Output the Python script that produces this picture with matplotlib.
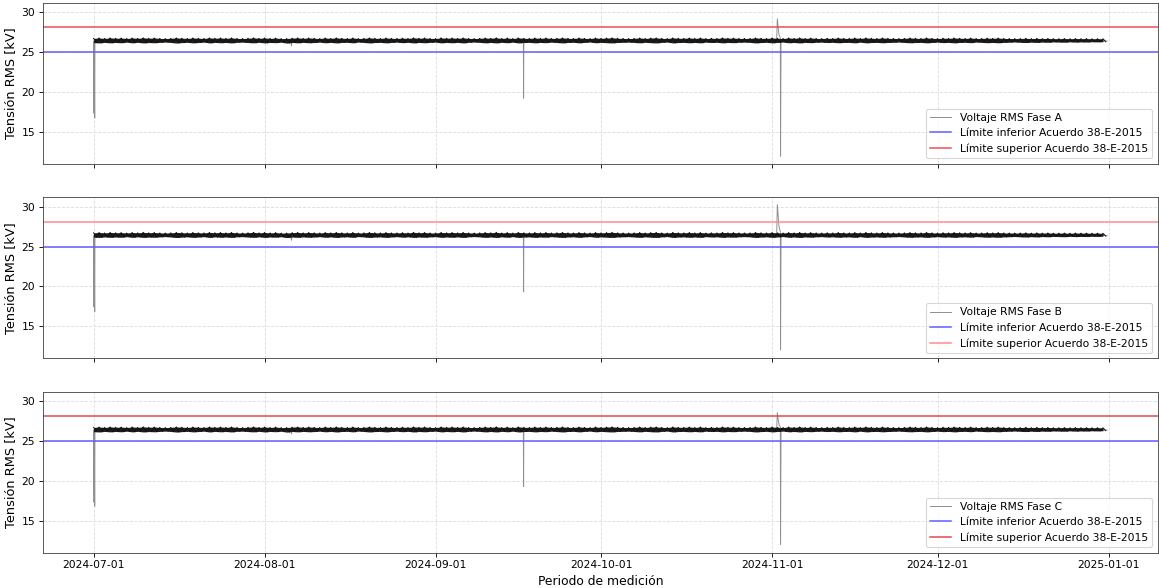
import matplotlib
matplotlib.use("Agg")
import matplotlib.pyplot as plt
import matplotlib.dates as mdates
import pandas as pd

# ---------------- data ----------------
phases = ["A", "B", "C"]
lower_limit = 25.0
upper_limit = 28.15

# daily max / min of the RMS voltage (kV), 2024-07-01 .. 2024-12-31 (Mon..Sun rows)
band_low = [
    26.20, 26.16, 26.23, 26.17, 26.22, 26.18, 26.26,
    26.17, 26.24, 26.16, 26.21, 26.18, 26.23, 26.27,
    26.22, 26.15, 26.20, 26.24, 26.17, 26.21, 26.26,
    26.16, 26.23, 26.18, 26.22, 26.16, 26.24, 26.26,
    26.21, 26.17, 26.24, 26.16, 26.22, 26.19, 26.25,
    26.14, 26.22, 26.17, 26.23, 26.18, 26.21, 26.26,
    26.18, 26.23, 26.16, 26.22, 26.24, 26.17, 26.27,
    26.22, 26.16, 26.21, 26.23, 26.17, 26.22, 26.26,
    26.19, 26.24, 26.16, 26.22, 26.18, 26.23, 26.26,
    26.17, 26.22, 26.18, 26.23, 26.16, 26.24, 26.27,
    26.23, 26.17, 26.22, 26.16, 26.24, 26.18, 26.26,
    26.16, 26.21, 26.23, 26.17, 26.22, 26.19, 26.26,
    26.21, 26.16, 26.22, 26.24, 26.17, 26.23, 26.27,
    26.18, 26.23, 26.19, 26.16, 26.22, 26.24, 26.26,
    26.22, 26.17, 26.24, 26.19, 26.16, 26.23, 26.27,
    26.16, 26.21, 26.23, 26.18, 26.22, 26.17, 26.26,
    26.21, 26.24, 26.17, 26.22, 26.19, 26.24, 26.26,
    26.23, 26.16, 26.21, 26.24, 26.17, 26.22, 26.27,
    26.18, 26.22, 26.16, 26.23, 26.19, 26.24, 26.26,
    26.21, 26.24, 26.18, 26.22, 26.23, 26.17, 26.26,
    26.17, 26.21, 26.23, 26.18, 26.22, 26.24, 26.27,
    26.22, 26.18, 26.21, 26.23, 26.17, 26.22, 26.26,
    26.20, 26.23, 26.17, 26.22, 26.24, 26.19, 26.27,
    26.23, 26.19, 26.22, 26.18, 26.23, 26.25, 26.28,
    26.24, 26.21, 26.26, 26.22, 26.27, 26.24, 26.29,
    26.27, 26.25, 26.30, 26.26, 26.29, 26.27, 26.31,
    26.29, 26.32,
]
band_high = [
    26.74, 26.79, 26.73, 26.80, 26.75, 26.78, 26.72,
    26.79, 26.74, 26.81, 26.75, 26.79, 26.73, 26.72,
    26.74, 26.80, 26.76, 26.73, 26.79, 26.75, 26.73,
    26.80, 26.75, 26.79, 26.74, 26.80, 26.73, 26.72,
    26.75, 26.81, 26.74, 26.79, 26.73, 26.78, 26.71,
    26.72, 26.77, 26.80, 26.74, 26.79, 26.75, 26.72,
    26.79, 26.74, 26.80, 26.75, 26.73, 26.79, 26.72,
    26.74, 26.80, 26.75, 26.73, 26.79, 26.74, 26.73,
    26.77, 26.73, 26.81, 26.75, 26.79, 26.73, 26.72,
    26.80, 26.75, 26.79, 26.74, 26.80, 26.73, 26.72,
    26.74, 26.79, 26.75, 26.81, 26.73, 26.78, 26.72,
    26.80, 26.75, 26.73, 26.79, 26.74, 26.79, 26.73,
    26.75, 26.80, 26.74, 26.73, 26.79, 26.74, 26.72,
    26.79, 26.74, 26.78, 26.81, 26.75, 26.73, 26.72,
    26.74, 26.79, 26.73, 26.78, 26.80, 26.74, 26.72,
    26.80, 26.75, 26.74, 26.79, 26.73, 26.79, 26.72,
    26.75, 26.73, 26.80, 26.75, 26.78, 26.73, 26.73,
    26.73, 26.80, 26.75, 26.73, 26.79, 26.74, 26.72,
    26.79, 26.74, 26.80, 26.73, 26.78, 26.73, 26.72,
    26.75, 26.73, 26.79, 26.74, 26.73, 26.79, 26.73,
    26.80, 26.75, 26.73, 26.79, 26.74, 26.73, 26.72,
    26.74, 26.79, 26.75, 26.73, 26.80, 26.74, 26.72,
    26.76, 26.74, 26.79, 26.75, 26.73, 26.78, 26.72,
    26.73, 26.77, 26.74, 26.78, 26.73, 26.72, 26.71,
    26.72, 26.75, 26.71, 26.74, 26.71, 26.73, 26.70,
    26.70, 26.72, 26.69, 26.72, 26.70, 26.71, 26.69,
    26.70, 26.68,
]
band_start = "2024-07-01 00:00"

# disturbance events traced per phase (timestamp, kV)
event_times = [
    "2024-07-01 00:00", "2024-07-01 02:00", "2024-07-01 03:00", "2024-07-01 05:00",
    "2024-07-01 06:00", "2024-08-05 18:00", "2024-08-05 21:00", "2024-08-06 00:00",
    "2024-09-16 22:00", "2024-09-16 23:00", "2024-09-17 00:00", "2024-11-01 20:00",
    "2024-11-01 23:00", "2024-11-02 06:00", "2024-11-02 12:00", "2024-11-02 13:00",
    "2024-11-02 15:00", "2024-12-31 18:00",
]
event_A = [26.4, 17.3, 26.3, 16.7, 26.4, 26.4, 25.8, 26.4, 26.4, 19.2, 26.4,
           26.5, 29.2, 27.2, 26.8, 11.9, 26.4, 26.4]
event_B = [26.4, 17.4, 26.3, 16.8, 26.4, 26.4, 25.8, 26.4, 26.4, 19.3, 26.4,
           26.5, 30.3, 27.6, 26.9, 12.0, 26.4, 26.4]
event_C = [26.4, 17.3, 26.3, 16.8, 26.4, 26.4, 25.9, 26.4, 26.4, 19.3, 26.4,
           26.5, 28.6, 27.1, 26.8, 12.0, 26.4, 26.4]
events = {"A": event_A, "B": event_B, "C": event_C}
upper_color = {"A": "#e85050", "B": "#ff8a8a", "C": "#e04848"}
lower_color = "#5c5cff"
series_color = "#8f8f8f"

# ---------------- plot ----------------
DPI = 77.27
LW_LIMIT = 1.5 * 72 / DPI
fig, axes = plt.subplots(3, 1, figsize=(1159 / DPI, 588 / DPI), dpi=DPI,
                         sharex=True, sharey=True)
fig.subplots_adjust(left=0.037, right=0.999, top=0.995, bottom=0.06, hspace=0.21)

# daily max at 00:00 and daily min at 12:00, in time order
days = pd.date_range(band_start, periods=len(band_low), freq="D")
zig_x, zig_y = [], []
for d, hi, lo in zip(days, band_high, band_low):
    zig_x += [d, d + pd.Timedelta(hours=12)]
    zig_y += [hi, lo]
ev_x = pd.to_datetime(event_times)

for ax, ph in zip(axes, phases):
    ax.plot(ev_x, events[ph], color=series_color, lw=0.9, zorder=2,
            label=f"Voltaje RMS Fase {ph}")
    ax.fill_between(days, band_low, band_high, color="#1c1c1c", lw=0, zorder=2.4)
    ax.plot(zig_x, zig_y, color="#111111", lw=0.9, zorder=2.5)
    ax.axhline(lower_limit, color=lower_color, lw=LW_LIMIT, zorder=2,
               label="Límite inferior Acuerdo 38-E-2015")
    ax.axhline(upper_limit, color=upper_color[ph], lw=LW_LIMIT, zorder=2,
               label="Límite superior Acuerdo 38-E-2015")
    ax.set_ylabel("Tensión RMS [kV]", fontsize=12)
    ax.grid(True, ls="--", color="#dddddd", lw=0.8)
    ax.legend(loc="lower right", fontsize=10)
    for s in ax.spines.values():
        s.set_color("#444444")

axes[0].set_ylim(10.95, 31.2)
axes[0].set_yticks([15, 20, 25, 30])
axes[-1].xaxis.set_major_locator(mdates.MonthLocator())
axes[-1].xaxis.set_major_formatter(mdates.DateFormatter("%Y-%m-%d"))
axes[-1].set_xlabel("Periodo de medición", fontsize=11.5)

fig.savefig("out.png", dpi=DPI)
